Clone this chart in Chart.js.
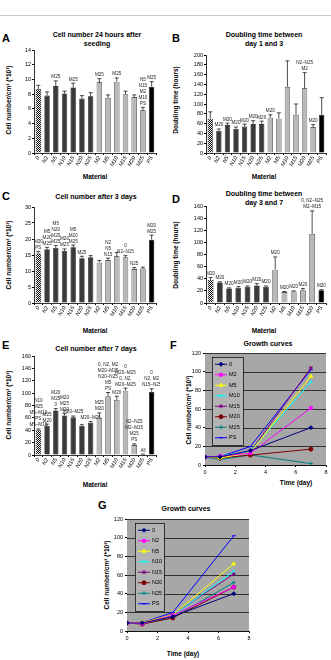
<!DOCTYPE html>
<html lang="en">
<head>
<meta charset="UTF-8">
<title>Cell growth on materials</title>
<style>
    body {
        margin: 0;
        background: #fff;
        width: 331px;
        height: 660px;
        position: relative;
        overflow: hidden;
        font-family: 'Liberation Sans', Arial, sans-serif;
        color: #000;
    }
    canvas { position: absolute; }
    .topline { position: absolute; left: 0; top: 15px; width: 331px; height: 1px; background: #c8c8c8; }
    .letter { position: absolute; font-weight: bold; font-size: 11px; }
    .title { position: absolute; font-weight: bold; font-size: 7px; line-height: 9px; text-align: center; white-space: nowrap; transform: translateX(-50%); }
    .ylab { position: absolute; font-weight: bold; font-size: 6.5px; white-space: nowrap; transform: translate(-50%, -50%) rotate(-90deg); }
    .xlab { position: absolute; font-weight: bold; font-size: 6.5px; white-space: nowrap; transform: translate(-50%, -50%); }
</style>
</head>
<body>
<div class="topline"></div>

<div class="letter" style="left:2px;top:32px">A</div>
<div class="title" style="left:97px;top:30px">Cell number 24 hours after<br>seeding</div>
<div class="ylab" style="left:8px;top:100px">Cell number/cm² (*10³)</div>
<div class="xlab" style="left:95px;top:176px">Material</div>

<div class="letter" style="left:172px;top:32px">B</div>
<div class="title" style="left:264px;top:30px">Doubling time between<br>day 1 and 3</div>
<div class="ylab" style="left:175px;top:100px">Doubling time (hours)</div>
<div class="xlab" style="left:264px;top:176px">Material</div>

<div class="letter" style="left:2px;top:190px">C</div>
<div class="title" style="left:96px;top:192px">Cell number after 3 days</div>
<div class="ylab" style="left:8px;top:255px">Cell number/cm² (*10³)</div>
<div class="xlab" style="left:95px;top:330px">Material</div>

<div class="letter" style="left:172px;top:193px">D</div>
<div class="title" style="left:264px;top:189px">Doubling time between<br>day 3 and 7</div>
<div class="ylab" style="left:175px;top:255px">Doubling time (hours)</div>
<div class="xlab" style="left:264px;top:330px">Material</div>

<div class="letter" style="left:2px;top:339px">E</div>
<div class="title" style="left:96px;top:344px">Cell number after 7 days</div>
<div class="ylab" style="left:8px;top:405px">Cell number/cm² (*10³)</div>
<div class="xlab" style="left:95px;top:484px">Material</div>

<div class="letter" style="left:170px;top:339px">F</div>
<div class="title" style="left:268px;top:339px">Growth curves</div>
<div class="ylab" style="left:188px;top:410px">Cell number/cm² (*10³)</div>
<div class="xlab" style="left:296px;top:482px">Time (day)</div>

<div class="letter" style="left:98px;top:499px">G</div>
<div class="title" style="left:186px;top:504px">Growth curves</div>
<div class="ylab" style="left:106px;top:575px">Cell number/cm² (*10³)</div>
<div class="xlab" style="left:183px;top:653px">Time (day)</div>

<script src="https://cdn.jsdelivr.net/npm/chart.js"></script>
<script>
    // categories
    const materials = ['0', 'N2', 'N5', 'N10', 'N15', 'N20', 'N25', 'M2', 'M5', 'M10', 'M15', 'M20', 'M25', 'PS'];
    const materialsD = ['0', 'N2', 'N5', 'N10', 'N15', 'N20', 'N25', 'M2', 'M5', 'M10', 'M15', 'M20', 'PS'];

    // A - cell number 24 h after seeding
    const cellsDay1 = [8.7, 7.8, 9.1, 8.1, 8.9, 7.4, 7.7, 9.6, 7.5, 9.7, 8.0, 7.6, 5.8, 9.0];
    const cellsDay1Err = [0.5, 0.5, 0.7, 0.3, 0.6, 0.4, 0.5, 0.5, 0.4, 0.5, 0.4, 0.3, 0.4, 0.7];
    const notesA = [[], [], ['M25'], [], ['M25'], [], [], ['M25'], [], ['M25'], [], [], ['PS', 'M10', 'M2', 'N15', 'N5'], ['M25']];

    // B - doubling time day 1-3
    const doubling13 = [70, 45, 57, 49, 54, 59, 59, 72, 70, 135, 78, 132, 53, 78];
    const doubling13Err = [14, 4, 4, 4, 5, 7, 6, 6, 12, 53, 22, 32, 5, 35];
    const notesB = [[], ['M20'], ['M20'], ['M20'], ['M20'], ['M20'], ['M20'], ['M20'], [], [], [], ['M2', 'N2–N25'], ['M20'], []];

    // C - cell number after 3 days
    const cellsDay3 = [15.5, 16.8, 17.2, 16.3, 17.4, 14.0, 14.3, 12.6, 13.4, 14.6, 14.3, 10.6, 10.8, 19.8];
    const cellsDay3Err = [0.6, 0.6, 0.8, 0.6, 0.7, 0.6, 0.5, 0.7, 0.6, 1.2, 0.5, 0.5, 0.4, 1.4];
    const notesC = [['PS', 'M20'], ['M25', 'M20', 'M5'], ['M25', 'M20', 'N20', 'M5'], ['M25', 'M20'], ['M25', 'M20', 'M5'], ['M25'], [], [],
        ['N15', 'N5', 'N2'], [], ['N2–N15', '0'], ['N25'], [], ['M25', 'M20']];

    // D - doubling time day 3-7
    const doubling37 = [38, 34, 24, 25, 27, 29, 27, 55, 18, 19, 21, 114, 21];
    const doubling37Err = [4, 1, 1, 2, 1, 3, 1, 21, 1, 1, 3, 38, 1];
    const notesD = [['M20'], ['M20'], ['M20'], ['M20'], ['M20'], ['M20'], ['M20'], ['M20'], ['M20'], ['M20'], ['M20'],
        ['M2–M15', '0, N2–N25'], ['M20']];

    // E - cell number after 7 days
    const cellsDay7 = [40, 47, 72, 64, 61, 47, 52, 60, 95, 89, 104, 16, 1, 102];
    const cellsDay7Err = [2, 3, 3, 3, 2, 2, 2, 8, 6, 6, 4, 2, 0.5, 5];
    const notesE = [['M5–M10', 'PS', 'M5–M10', 'M25', 'N10'], ['M20', 'M25'], ['0', 'M25', 'M20'], ['M20', 'M25', 'M20'], ['M20–M25'], [], ['M20–M26'],
        ['M20', 'M25'], ['PS', 'M5', 'N20–N25', 'M20–M25', '0, N2, M2'], ['M20'], ['M20–M25', '0, N2,', 'M20–M25', '0'],
        ['PS', 'M25', 'M2–M15', 'N2–N25'], ['All'], ['N15–N25', 'N2, M2', '0']];

    // F, G - growth curves
    const days = [0, 1, 3, 7];
    const seriesF = ['0', 'M2', 'M5', 'M10', 'M15', 'M20', 'M25', 'PS'];
    const valuesF = [
        [8.6, 8.7, 15.5, 40],
        [8.4, 9.6, 12.6, 61],
        [8.5, 7.5, 13.4, 95],
        [8.3, 9.7, 14.6, 89],
        [8.6, 8.0, 14.3, 104],
        [8.4, 7.6, 10.6, 17],
        [8.5, 5.8, 10.8, 1.5],
        [8.6, 9.0, 19.8, 102]
    ];
    const seriesG = ['0', 'N2', 'N5', 'N10', 'N15', 'N20', 'N25', 'PS'];
    const valuesG = [
        [8.6, 8.7, 15.5, 40],
        [8.5, 7.8, 16.8, 47],
        [8.7, 9.1, 17.2, 72],
        [8.4, 8.1, 16.3, 64],
        [8.6, 8.9, 17.4, 61],
        [8.5, 7.4, 14.0, 47],
        [8.6, 7.7, 14.3, 52],
        [8.6, 9.0, 19.8, 102]
    ];

    const lineColors = ['#000080', '#ff00ff', '#ffff00', '#00ffff', '#800080', '#800000', '#008080', '#0000ff'];
    const markers = ['rectRot', 'rect', 'triangle', 'crossRot', 'star', 'circle', 'cross', 'line'];

    Chart.defaults.font.family = "'Liberation Sans', Arial, sans-serif";
    Chart.defaults.color = '#000';

    // checkered fill for the '0' bars
    const pc = document.createElement('canvas');
    pc.width = 2; pc.height = 2;
    const pctx = pc.getContext('2d');
    pctx.fillStyle = '#fff'; pctx.fillRect(0, 0, 2, 2);
    pctx.fillStyle = '#000'; pctx.fillRect(0, 0, 1, 1); pctx.fillRect(1, 1, 1, 1);
    const checker = pctx.createPattern(pc, 'repeat');

    function barColor(label) {
        if (label === '0') return checker;
        if (label === 'PS') return '#000';
        if (label[0] === 'N') return '#3b3b3b';
        return '#b9b9b9';
    }

    // error bars + significance notes
    const errPlugin = {
        id: 'errbars',
        afterDatasetsDraw(chart, args, opts) {
            const ctx = chart.ctx;
            const y = chart.scales.y;
            const vals = chart.data.datasets[0].data;
            ctx.save();
            chart.getDatasetMeta(0).data.forEach((bar, i) => {
                const e = opts.errs[i];
                const yTop = y.getPixelForValue(vals[i] + e);
                const yBar = y.getPixelForValue(vals[i]);
                ctx.strokeStyle = '#000';
                ctx.lineWidth = 0.7;
                ctx.beginPath();
                ctx.moveTo(bar.x, yBar);
                ctx.lineTo(bar.x, yTop);
                ctx.moveTo(bar.x - 2, yTop);
                ctx.lineTo(bar.x + 2, yTop);
                ctx.stroke();
                ctx.fillStyle = '#222';
                ctx.font = "4.6px 'Liberation Sans', Arial, sans-serif";
                ctx.textAlign = 'center';
                ctx.textBaseline = 'bottom';
                (opts.notes[i] || []).forEach((t, k) => {
                    ctx.fillText(t, bar.x, yTop - 1.5 - k * 6);
                });
            });
            ctx.restore();
        }
    };

    function barChart(labels, values, errs, notes, yMax, yStep, box) {
        const cv = document.createElement('canvas');
        cv.width = box.w; cv.height = box.h;
        cv.style.left = box.left + 'px'; cv.style.top = box.top + 'px';
        document.body.appendChild(cv);
        return new Chart(cv.getContext('2d'), {
            type: 'bar',
            data: {
                labels: labels,
                datasets: [{
                    data: values,
                    backgroundColor: labels.map(barColor),
                    borderColor: '#000',
                    borderWidth: 0.6,
                    barPercentage: 0.62,
                    categoryPercentage: 1
                }]
            },
            options: {
                responsive: false,
                animation: false,
                devicePixelRatio: 1,
                layout: { padding: { top: box.pt, right: box.pr, left: 0, bottom: 0 } },
                plugins: {
                    legend: { display: false },
                    tooltip: { enabled: false },
                    errbars: { errs: errs, notes: notes }
                },
                scales: {
                    x: {
                        grid: { drawOnChartArea: false, tickLength: 2, color: '#000' },
                        border: { color: '#000', width: 0.8 },
                        ticks: { autoSkip: false, minRotation: 62, maxRotation: 62, padding: 0, font: { size: 5.5, style: 'italic' } },
                        afterFit(s) { s.height = box.xh; }
                    },
                    y: {
                        min: 0, max: yMax,
                        grid: { drawOnChartArea: false, tickLength: 2, color: '#000' },
                        border: { color: '#000', width: 0.8 },
                        ticks: { stepSize: yStep, padding: 1, font: { size: 5.5 } },
                        afterFit(s) { s.width = box.yw; }
                    }
                }
            },
            plugins: [errPlugin]
        });
    }

    // gray plot area and boxed legend for the growth curves
    const growthPlugin = {
        id: 'growthbox',
        beforeDatasetsDraw(chart) {
            const { ctx, chartArea: a } = chart;
            ctx.save();
            ctx.fillStyle = '#a7a7a7';
            ctx.fillRect(a.left, a.top, a.right - a.left, a.bottom - a.top);
            ctx.strokeStyle = '#000';
            ctx.lineWidth = 0.7;
            chart.scales.y.ticks.forEach(t => {
                const py = Math.round(chart.scales.y.getPixelForValue(t.value)) + 0.5;
                ctx.beginPath(); ctx.moveTo(a.left, py); ctx.lineTo(a.right, py); ctx.stroke();
            });
            ctx.restore();
        },
        afterDatasetsDraw(chart, args, opts) {
            const { ctx, chartArea: a } = chart;
            const lx = a.left + opts.dx, ly = a.top + opts.dy;
            const n = chart.data.datasets.length;
            ctx.save();
            ctx.fillStyle = '#b3b3b3';
            ctx.fillRect(lx, ly, opts.w, n * opts.step + 4);
            ctx.strokeStyle = '#000';
            ctx.lineWidth = 0.7;
            ctx.strokeRect(lx + 0.5, ly + 0.5, opts.w, n * opts.step + 4);
            chart.data.datasets.forEach((ds, i) => {
                const cy = ly + 2 + opts.step * (i + 0.5);
                ctx.strokeStyle = ds.borderColor;
                ctx.lineWidth = 1;
                ctx.beginPath(); ctx.moveTo(lx + 3, cy); ctx.lineTo(lx + 15, cy); ctx.stroke();
                ctx.fillStyle = ds.backgroundColor;
                Chart.helpers.drawPoint(ctx, { pointStyle: ds.pointStyle, radius: 2, rotation: 0, borderWidth: 1 }, lx + 9, cy);
                ctx.fillStyle = '#000';
                ctx.font = "5.5px 'Liberation Sans', Arial, sans-serif";
                ctx.textBaseline = 'middle';
                ctx.textAlign = 'left';
                ctx.fillText(ds.label, lx + 17, cy);
            });
            ctx.restore();
        }
    };

    function growthChart(names, values, box) {
        const cv = document.createElement('canvas');
        cv.width = box.w; cv.height = box.h;
        cv.style.left = box.left + 'px'; cv.style.top = box.top + 'px';
        document.body.appendChild(cv);
        return new Chart(cv.getContext('2d'), {
            type: 'line',
            data: {
                datasets: names.map((name, i) => ({
                    label: name,
                    data: days.map((d, j) => ({ x: d, y: values[i][j] })),
                    borderColor: lineColors[i],
                    backgroundColor: lineColors[i],
                    pointStyle: markers[i],
                    pointRadius: 2,
                    pointBorderWidth: 1,
                    borderWidth: 1
                }))
            },
            options: {
                responsive: false,
                animation: false,
                devicePixelRatio: 1,
                layout: { padding: { top: box.pt, right: box.pr, left: 0, bottom: 0 } },
                plugins: {
                    legend: { display: false },
                    tooltip: { enabled: false },
                    growthbox: { dx: box.lx, dy: box.ly, w: box.lw, step: 10.5 }
                },
                scales: {
                    x: {
                        type: 'linear', min: 0, max: 8,
                        grid: { drawOnChartArea: false, tickLength: 2, color: '#000' },
                        border: { color: '#000', width: 0.8 },
                        ticks: { stepSize: 2, padding: 2, font: { size: 5.5 } },
                        afterFit(s) { s.height = box.xh; }
                    },
                    y: {
                        min: 0, max: 120,
                        grid: { drawOnChartArea: false, tickLength: 2, color: '#000' },
                        border: { color: '#000', width: 0.8 },
                        ticks: { stepSize: 20, padding: 2, font: { size: 5.5 } },
                        afterFit(s) { s.width = box.yw; }
                    }
                }
            },
            plugins: [growthPlugin]
        });
    }

    barChart(materials, cellsDay1, cellsDay1Err, notesA, 14, 2,
        { left: 0, top: 40, w: 160, h: 133, yw: 34, xh: 20, pt: 10, pr: 4 });
    barChart(materials, doubling13, doubling13Err, notesB, 200, 20,
        { left: 165, top: 40, w: 166, h: 133, yw: 41, xh: 20, pt: 15, pr: 5 });
    barChart(materials, cellsDay3, cellsDay3Err, notesC, 30, 5,
        { left: 0, top: 195, w: 160, h: 130, yw: 34, xh: 22, pt: 12, pr: 4 });
    barChart(materialsD, doubling37, doubling37Err, notesD, 160, 20,
        { left: 165, top: 195, w: 166, h: 130, yw: 41, xh: 22, pt: 11, pr: 5 });
    barChart(materials, cellsDay7, cellsDay7Err, notesE, 160, 20,
        { left: 0, top: 345, w: 160, h: 133, yw: 34, xh: 23, pt: 11, pr: 4 });

    growthChart(seriesF, valuesF,
        { left: 180, top: 345, w: 151, h: 130, yw: 25, xh: 10, pt: 8, pr: 5, lx: 7, ly: 4, lw: 31 });
    growthChart(seriesG, valuesG,
        { left: 100, top: 512, w: 155, h: 135, yw: 27, xh: 16, pt: 7, pr: 6, lx: 8, ly: 4, lw: 29 });
</script>
</body>
</html>
